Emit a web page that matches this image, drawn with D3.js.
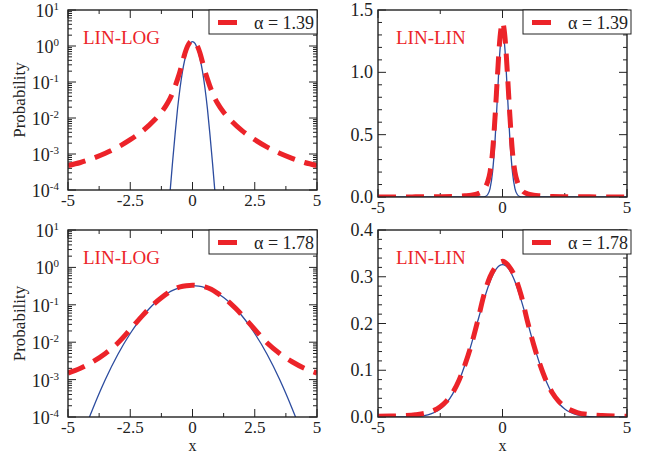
<!DOCTYPE html>
<html>
<head>
<meta charset="utf-8">
<script src="https://cdn.jsdelivr.net/npm/d3@7"></script>
<style>
  html, body { margin: 0; padding: 0; background: #fff; }
  svg { display: block; }
  text { font-family: "Liberation Serif", "Times New Roman", Times, serif; fill: #222; }
</style>
</head>
<body>
<svg id="chart" width="653" height="455" font-family="Liberation Serif, serif"></svg>
<script>
// x tick values and their printed labels
const xTicksLog = [-5, -2.5, 0, 2.5, 5];
const xTickLabelsLog = ["-5", "-2.5", "0", "2.5", "5"];
const xTicksLin = [-5, 0, 5];
const xTickLabelsLin = ["-5", "0", "5"];

// stability index shown in each legend
const alphaLabels = ["\u03b1 = 1.39", "\u03b1 = 1.78"];
const panelTags = ["LIN-LOG", "LIN-LIN"];

// Levy stable density, alpha = 1.39
const xLevy139 = [-5, -4.5, -4, -3.5, -3, -2.5, -2, -1.5, -1.25, -1, -0.8, -0.6, -0.5, -0.4, -0.3, -0.2, -0.1, 0,
                  0.1, 0.2, 0.3, 0.4, 0.5, 0.6, 0.8, 1, 1.25, 1.5, 2, 2.5, 3, 3.5, 4, 4.5, 5];
const pLevy139 = [0.00048, 0.00058, 0.00076, 0.00105, 0.00155, 0.0025, 0.0044, 0.0092, 0.0145, 0.026, 0.050, 0.12, 0.20, 0.36, 0.64, 0.98, 1.28, 1.40,
                  1.28, 0.98, 0.64, 0.36, 0.20, 0.12, 0.050, 0.026, 0.0145, 0.0092, 0.0044, 0.0025, 0.00155, 0.00105, 0.00076, 0.00058, 0.00048];

// Gaussian with the same peak region, alpha = 1.39 panel
const xGauss139 = [-5, -1.2, -1, -0.9, -0.8, -0.7, -0.6, -0.5, -0.4, -0.3, -0.2, -0.1, 0,
                   0.1, 0.2, 0.3, 0.4, 0.5, 0.6, 0.7, 0.8, 0.9, 1, 1.2, 5];
const pGauss139 = [0, 0, 0.00001, 0.00009, 0.0006, 0.0035, 0.018, 0.068, 0.20, 0.45, 0.82, 1.18, 1.33,
                   1.18, 0.82, 0.45, 0.20, 0.068, 0.018, 0.0035, 0.0006, 0.00009, 0.00001, 0, 0];

// Levy stable density, alpha = 1.78
const xLevy178 = [-5, -4.5, -4, -3.5, -3, -2.5, -2.25, -2, -1.75, -1.5, -1.25, -1, -0.75, -0.5, -0.25, 0,
                  0.25, 0.5, 0.75, 1, 1.25, 1.5, 1.75, 2, 2.25, 2.5, 3, 3.5, 4, 4.5, 5];
const pLevy178 = [0.0015, 0.0020, 0.0030, 0.0050, 0.0095, 0.022, 0.034, 0.052, 0.078, 0.113, 0.155, 0.205, 0.26, 0.30, 0.323, 0.333,
                  0.323, 0.30, 0.26, 0.205, 0.155, 0.113, 0.078, 0.052, 0.034, 0.022, 0.0095, 0.0050, 0.0030, 0.0020, 0.0015];

// Gaussian, alpha = 1.78 panel
const xGauss178 = [-5, -4.5, -4, -3.5, -3, -2.5, -2.25, -2, -1.75, -1.5, -1.25, -1, -0.75, -0.5, -0.25, 0,
                   0.25, 0.5, 0.75, 1, 1.25, 1.5, 1.75, 2, 2.25, 2.5, 3, 3.5, 4, 4.5, 5];
const pGauss178 = [0.0000025, 0.000023, 0.00017, 0.00101, 0.0047, 0.0171, 0.030, 0.0495, 0.077, 0.113, 0.156, 0.204, 0.250, 0.290, 0.317, 0.326,
                   0.317, 0.290, 0.250, 0.204, 0.156, 0.113, 0.077, 0.0495, 0.030, 0.0171, 0.0047, 0.00101, 0.00017, 0.000023, 0.0000025];

const RED = "#ec2329";
const BLUE = "#2c4c9f";
const INK = "#222";

const zip = (xs, ys) => xs.map((x, i) => ({ x, y: ys[i] }));
const series139 = { levy: zip(xLevy139, pLevy139), gauss: zip(xGauss139, pGauss139), alpha: alphaLabels[0] };
const series178 = { levy: zip(xLevy178, pLevy178), gauss: zip(xGauss178, pGauss178), alpha: alphaLabels[1] };

const panels = [
  { box: [68, 10, 317, 190], log: true, domain: [1e-4, 10], data: series139, tag: panelTags[0], ylab: true, xlab: false, legR: 317 },
  { box: [378, 10, 627, 197], log: false, domain: [0, 1.5], major: 0.5, minor: 0.1, data: series139, tag: panelTags[1], ylab: false, xlab: false, legR: 631 },
  { box: [68, 230, 317, 417], log: true, domain: [1e-4, 10], data: series178, tag: panelTags[0], ylab: true, xlab: true, legR: 317 },
  { box: [378, 230, 627, 417], log: false, domain: [0, 0.4], major: 0.1, minor: 0.02, data: series178, tag: panelTags[1], ylab: false, xlab: true, legR: 631 }
];

const svg = d3.select("#chart");
const MAJ = 8, MIN = 4;

panels.forEach((p, idx) => {
  const [L, T, R, B] = p.box;
  const x = d3.scaleLinear().domain([-5, 5]).range([L, R]);
  const y = p.log
    ? d3.scaleLog().domain(p.domain).range([B, T])
    : d3.scaleLinear().domain(p.domain).range([B, T]);

  const g = svg.append("g");
  const clipId = "clip" + idx;
  svg.append("clipPath").attr("id", clipId)
    .append("rect").attr("x", L).attr("y", T).attr("width", R - L).attr("height", B - T);

  // x ticks on bottom and top, pointing inward
  const xMajor = p.log ? xTicksLog : xTicksLin;
  const xLabels = p.log ? xTickLabelsLog : xTickLabelsLin;
  const xMinor = p.log ? [-3.75, -1.25, 1.25, 3.75] : [-2.5, 2.5];
  const tickG = g.append("g").attr("stroke", INK).attr("stroke-width", 1);
  xMajor.forEach(v => {
    tickG.append("line").attr("x1", x(v)).attr("x2", x(v)).attr("y1", B).attr("y2", B - MAJ);
    tickG.append("line").attr("x1", x(v)).attr("x2", x(v)).attr("y1", T).attr("y2", T + MAJ);
  });
  xMinor.forEach(v => {
    tickG.append("line").attr("x1", x(v)).attr("x2", x(v)).attr("y1", B).attr("y2", B - MIN);
    tickG.append("line").attr("x1", x(v)).attr("x2", x(v)).attr("y1", T).attr("y2", T + MIN);
  });
  g.append("g").selectAll("text").data(xMajor).join("text")
    .attr("x", d => x(d)).attr("y", B + 16)
    .attr("text-anchor", "middle").attr("font-size", 17)
    .text((d, i) => xLabels[i]);

  // y ticks on left and right
  let yMajor, yMinor;
  if (p.log) {
    yMajor = d3.range(-4, 2).map(e => Math.pow(10, e));
    yMinor = [];
    d3.range(-4, 1).forEach(e => { for (let k = 2; k <= 9; k++) yMinor.push(k * Math.pow(10, e)); });
  } else {
    const n = Math.round(p.domain[1] / p.major);
    yMajor = d3.range(0, n + 1).map(i => +(i * p.major).toFixed(3));
    const m = Math.round(p.domain[1] / p.minor);
    yMinor = d3.range(0, m + 1).map(i => +(i * p.minor).toFixed(3)).filter(v => !yMajor.some(w => Math.abs(w - v) < 1e-9));
  }
  yMajor.forEach(v => {
    tickG.append("line").attr("x1", L).attr("x2", L + MAJ).attr("y1", y(v)).attr("y2", y(v));
    tickG.append("line").attr("x1", R).attr("x2", R - MAJ).attr("y1", y(v)).attr("y2", y(v));
  });
  yMinor.forEach(v => {
    tickG.append("line").attr("x1", L).attr("x2", L + MIN).attr("y1", y(v)).attr("y2", y(v));
    tickG.append("line").attr("x1", R).attr("x2", R - MIN).attr("y1", y(v)).attr("y2", y(v));
  });

  if (p.log) {
    yMajor.forEach(v => {
      const e = Math.round(Math.log10(v));
      const t = g.append("text").attr("x", L - 9).attr("y", y(v) + 7)
        .attr("text-anchor", "end").attr("font-size", 18);
      t.append("tspan").text("10");
      t.append("tspan").attr("dy", -7).attr("font-size", 11).text(e < 0 ? "-" + (-e) : String(e));
    });
  } else {
    g.append("g").selectAll("text").data(yMajor).join("text")
      .attr("x", L - 5).attr("y", d => y(d) + 6)
      .attr("text-anchor", "end").attr("font-size", 18)
      .text(d => d3.format(".1f")(d));
  }

  // curves
  const lineGen = d3.line()
    .x(d => x(d.x)).y(d => y(d.y))
    .curve(d3.curveMonotoneX);
  const keep = pts => p.log ? pts.filter(d => d.y > 0) : pts;
  const plot = g.append("g").attr("clip-path", `url(#${clipId})`);
  plot.append("path").datum(keep(p.data.gauss))
    .attr("d", lineGen).attr("fill", "none")
    .attr("stroke", BLUE).attr("stroke-width", 1.3);
  plot.append("path").datum(keep(p.data.levy))
    .attr("d", lineGen).attr("fill", "none")
    .attr("stroke", RED).attr("stroke-width", 5)
    .attr("stroke-dasharray", "18,10");

  // frame
  g.append("rect").attr("x", L).attr("y", T).attr("width", R - L).attr("height", B - T)
    .attr("fill", "none").attr("stroke", INK).attr("stroke-width", 1.4);

  // panel tag
  g.append("text").attr("x", L + (p.log ? 15 : 18)).attr("y", T + 34)
    .attr("font-size", 19).style("fill", RED).text(p.tag);

  // legend
  const lw = 108, lh = 24, lx = p.legR - lw, ly = T;
  g.append("rect").attr("x", lx).attr("y", ly).attr("width", lw).attr("height", lh)
    .attr("fill", "#fff").attr("stroke", INK).attr("stroke-width", 1);
  g.append("line").attr("x1", lx + 9).attr("x2", lx + 28).attr("y1", ly + 12.5).attr("y2", ly + 12.5)
    .attr("stroke", RED).attr("stroke-width", 5);
  g.append("text").attr("x", lx + 45).attr("y", ly + 18.5)
    .attr("font-size", 18).text(p.data.alpha);

  // axis titles
  if (p.ylab) {
    g.append("text")
      .attr("transform", `translate(25,${(T + B) / 2}) rotate(-90)`)
      .attr("text-anchor", "middle").attr("font-size", 17).text("Probability");
  }
  if (p.xlab) {
    g.append("text").attr("x", (L + R) / 2).attr("y", B + 34)
      .attr("text-anchor", "middle").attr("font-size", 16).text("x");
  }
});
</script>
</body>
</html>
